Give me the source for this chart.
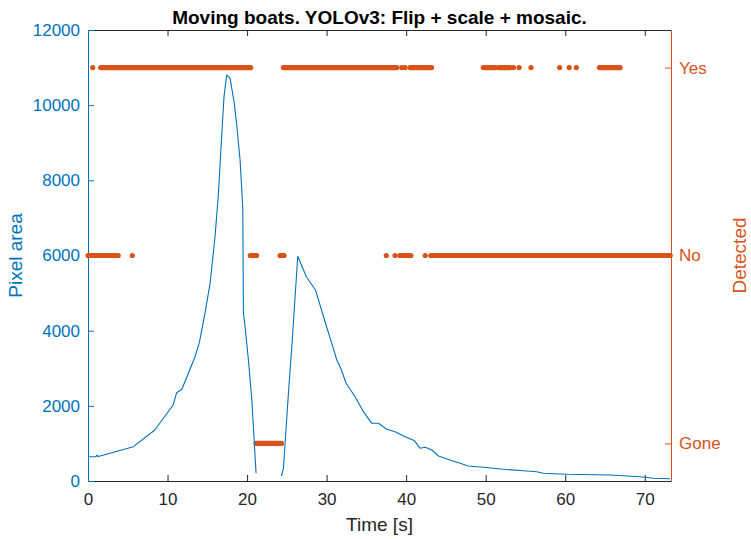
<!DOCTYPE html>
<html>
<head>
<meta charset="utf-8">
<script src="https://cdn.jsdelivr.net/npm/d3@7"></script>
<style>
  body { margin: 0; background: #fff; }
  svg { display: block; font-family: "Liberation Sans", Arial, sans-serif; }
</style>
</head>
<body>
<div id="chart"></div>
<script>
// Pixel area of the tracked boat over time (null = boat gone)
const timeSec = [
  0, 1.0, 1.15, 1.3, 5.7, 8.4, 10.7, 11.15, 11.8, 13.46, 14.0, 14.7, 15.35,
  15.97, 16.4, 16.8, 17.1, 17.44, 17.86, 18.36, 18.7, 19.12, 19.46, 19.54,
  19.75, 20.17, 20.6, 21.13, 22.5,
  24.32, 24.57, 25.2, 25.7, 26.37, 27.45, 28.6, 29.9, 30.65, 31.28, 31.78,
  32.45, 33.58, 34.63, 35.68, 36.52, 37.57, 38.6, 39.87, 41.0, 41.76, 42.4,
  43.23, 44.07, 45.5, 46.6, 47.8, 49.7, 52.2, 54.76, 56.4, 57.27, 60.2,
  65.66, 69.4, 71.1, 73.2,
];
const pixelArea = [
  647, 647, 690, 650, 913, 1357, 2022, 2350, 2440, 3308, 3680, 4462, 5260,
  6500, 7655, 9162, 10226, 10804, 10715, 10094, 9473, 8542, 7257, 4462,
  4106, 3220, 2155, 205, null,
  133, 338, 2334, 3800, 5980, 5436, 5083, 4170, 3664, 3220, 2999,
  2600, 2243, 1844, 1535, 1535, 1376, 1312, 1179, 1080, 870, 897,
  825, 665, 559, 487, 400, 364, 311, 274, 248, 205, 178,
  160, 115, 72, 61,
];

// Detection state, as runs of frames [start, end] in seconds
const detectedLabels = ["Gone", "No", "Yes"];
const yesRuns = [
  [0.59, 0.59], [1.6, 20.46], [24.57, 38.83], [39.46, 39.46], [39.87, 39.87],
  [40.5, 43.2], [49.7, 51.2], [51.6, 53.1], [53.5, 53.5], [54.2, 54.2],
  [55.7, 55.7], [59.3, 59.3], [60.5, 60.5], [61.4, 61.4], [64.3, 66.9],
];
const noRuns = [
  [0, 3.8], [5.57, 5.57], [20.4, 21.2], [24.15, 24.65], [37.5, 37.5],
  [38.6, 38.6], [39.2, 40.6], [42.4, 42.4], [43.1, 73.2],
];
const goneRuns = [[21.13, 24.32]];

const xTicks = [0, 10, 20, 30, 40, 50, 60, 70];
const yTicks = [0, 2000, 4000, 6000, 8000, 10000, 12000];

const titleText = "Moving boats. YOLOv3: Flip + scale + mosaic.";

// Display options
const width = 751;
const height = 539;
const margin = { top: 30, right: 80, bottom: 58, left: 88 };
const blue = "#0072BD";
const orange = "#D95319";
const axisGrey = "#262626";
const tickLen = 6;
const tickFont = 17;
const labelFont = 19;
const dotRadius = 2.6;

const svg = d3
  .select("#chart")
  .append("svg")
  .attr("width", width)
  .attr("height", height);

// Scales
const xScale = d3
  .scaleLinear()
  .domain([0, 73.3])
  .range([margin.left, width - margin.right]);
const yScale = d3
  .scaleLinear()
  .domain([0, 12000])
  .range([height - margin.bottom, margin.top]);
const yDetScale = d3
  .scaleLinear()
  .domain([-0.2, 2.2])
  .range([height - margin.bottom, margin.top]);
const levelY = (label) => yDetScale(detectedLabels.indexOf(label));

// Axes (ticks pointing inwards, like MATLAB)
const xAxis = d3
  .axisBottom(xScale)
  .tickValues(xTicks)
  .tickSize(-tickLen)
  .tickPadding(tickLen + 6)
  .tickSizeOuter(0);
const xAxisTop = d3
  .axisTop(xScale)
  .tickValues(xTicks)
  .tickSize(-tickLen)
  .tickFormat("")
  .tickSizeOuter(0);
const yAxis = d3
  .axisLeft(yScale)
  .tickValues(yTicks)
  .tickSize(-tickLen)
  .tickPadding(tickLen + 2)
  .tickFormat(d3.format("d"))
  .tickSizeOuter(0);
const yDetAxis = d3
  .axisRight(yDetScale)
  .tickValues([0, 1, 2])
  .tickSize(-tickLen)
  .tickPadding(tickLen + 2)
  .tickFormat((d) => detectedLabels[d])
  .tickSizeOuter(0);

const styleAxis = (g, colour) => {
  g.selectAll("path").attr("stroke", colour).attr("stroke-width", 1);
  g.selectAll("line").attr("stroke", colour).attr("stroke-width", 1);
  g.selectAll("text")
    .attr("fill", colour)
    .style("font-size", tickFont + "px");
};

svg
  .append("g")
  .attr("transform", `translate(0, ${margin.top})`)
  .call(xAxisTop)
  .call((g) => styleAxis(g, axisGrey));

svg
  .append("g")
  .attr("transform", `translate(0, ${height - margin.bottom})`)
  .call(xAxis)
  .call((g) => styleAxis(g, axisGrey));

svg
  .append("g")
  .attr("transform", `translate(${margin.left}, 0)`)
  .call(yAxis)
  .call((g) => styleAxis(g, blue));

svg
  .append("g")
  .attr("transform", `translate(${width - margin.right}, 0)`)
  .call(yDetAxis)
  .call((g) => styleAxis(g, orange));

// Detection runs: dense dots drawn as round-capped strokes
const runs = [
  ...yesRuns.map((r) => ({ level: "Yes", t0: r[0], t1: r[1] })),
  ...noRuns.map((r) => ({ level: "No", t0: r[0], t1: r[1] })),
  ...goneRuns.map((r) => ({ level: "Gone", t0: r[0], t1: r[1] })),
];

svg
  .append("g")
  .selectAll("line")
  .data(runs.filter((d) => d.t1 > d.t0))
  .enter()
  .append("line")
  .attr("x1", (d) => xScale(d.t0))
  .attr("x2", (d) => xScale(d.t1))
  .attr("y1", (d) => levelY(d.level))
  .attr("y2", (d) => levelY(d.level))
  .attr("stroke", orange)
  .attr("stroke-width", dotRadius * 2)
  .attr("stroke-linecap", "round");

svg
  .append("g")
  .selectAll("circle")
  .data(runs.filter((d) => d.t1 === d.t0))
  .enter()
  .append("circle")
  .attr("cx", (d) => xScale(d.t0))
  .attr("cy", (d) => levelY(d.level))
  .attr("r", dotRadius)
  .attr("fill", orange);

// Pixel area line
const line = d3
  .line()
  .defined((d) => d[1] !== null)
  .x((d) => xScale(d[0]))
  .y((d) => yScale(d[1]));

svg
  .append("path")
  .datum(timeSec.map((t, i) => [t, pixelArea[i]]))
  .attr("fill", "none")
  .attr("stroke", blue)
  .attr("stroke-width", 1.1)
  .attr("stroke-linejoin", "round")
  .attr("d", line);

// Title and axis labels
svg
  .append("text")
  .attr("x", (margin.left + width - margin.right) / 2)
  .attr("y", 24)
  .attr("text-anchor", "middle")
  .attr("font-weight", "bold")
  .style("font-size", "19px")
  .attr("fill", "#000")
  .text(titleText);

svg
  .append("text")
  .attr("x", (margin.left + width - margin.right) / 2)
  .attr("y", 531)
  .attr("text-anchor", "middle")
  .style("font-size", labelFont + "px")
  .attr("fill", axisGrey)
  .text("Time [s]");

svg
  .append("text")
  .attr("transform", `translate(22, ${(margin.top + height - margin.bottom) / 2}) rotate(-90)`)
  .attr("text-anchor", "middle")
  .style("font-size", labelFont + "px")
  .attr("fill", blue)
  .text("Pixel area");

svg
  .append("text")
  .attr("transform", `translate(746, ${(margin.top + height - margin.bottom) / 2}) rotate(-90)`)
  .attr("text-anchor", "middle")
  .style("font-size", labelFont + "px")
  .attr("fill", orange)
  .text("Detected");
</script>
</body>
</html>
